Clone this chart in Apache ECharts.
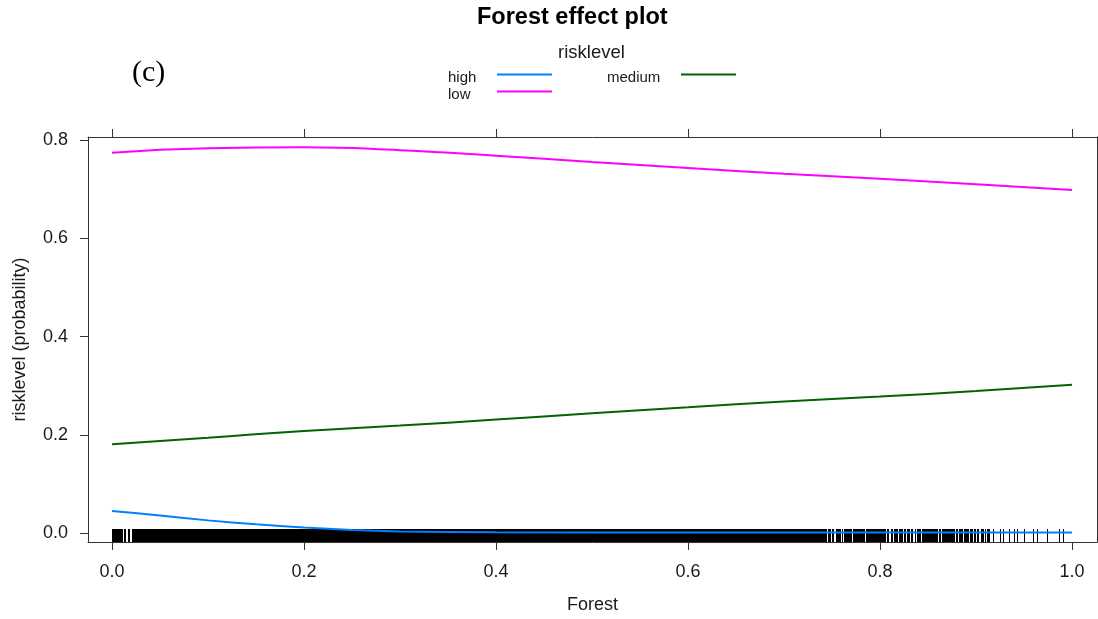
<!DOCTYPE html>
<html>
<head>
<meta charset="utf-8">
<script src="https://cdn.jsdelivr.net/npm/echarts@6/dist/echarts.min.js"></script>
<style>
  html, body { margin: 0; padding: 0; background: #fff; }
  #chart { width: 1098px; height: 619px; }
</style>
</head>
<body>
<div id="chart"></div>
<script>
// ---- data ----
const forestX = [0.0, 0.1, 0.2, 0.3, 0.4, 0.5, 0.6, 0.7, 0.8, 0.9, 1.0];
const lowVals = [0.774, 0.783, 0.785, 0.779, 0.768, 0.755, 0.743, 0.731, 0.721, 0.710, 0.698];
const mediumVals = [0.181, 0.194, 0.208, 0.219, 0.231, 0.244, 0.256, 0.268, 0.278, 0.289, 0.302];
const highX = [0.0, 0.05, 0.1, 0.15, 0.2, 0.25, 0.3, 0.4, 0.6, 0.8, 1.0];
const highVals = [0.045, 0.036, 0.026, 0.018, 0.0115, 0.0065, 0.0035, 0.0018, 0.0015, 0.0014, 0.0014];

// rug: dense stretches of observations [from, to] and isolated observations
const rugSegments = [
  [0.000, 0.0110], [0.0125, 0.0150], [0.0165, 0.0192], [0.0207, 0.7450],
  [0.7462, 0.7488], [0.7500, 0.7525], [0.7538, 0.7596], [0.7608, 0.7612],
  [0.7625, 0.7705], [0.7717, 0.7845], [0.7857, 0.8058], [0.8070, 0.8098],
  [0.8110, 0.8133], [0.8145, 0.8190], [0.8202, 0.8238], [0.8250, 0.8272],
  [0.8284, 0.8308], [0.8320, 0.8348], [0.8360, 0.8370], [0.8382, 0.8428],
  [0.8440, 0.8602], [0.8614, 0.8630], [0.8642, 0.8776], [0.8788, 0.8810],
  [0.8822, 0.8862], [0.8874, 0.8925], [0.8937, 0.8967], [0.8979, 0.9002],
  [0.9014, 0.9036], [0.9048, 0.9053], [0.9065, 0.9078], [0.9090, 0.9106],
  [0.9118, 0.9146]
];
const rugTicks = [0.918, 0.925, 0.928, 0.934, 0.940, 0.943, 0.950, 0.959, 0.964, 0.974, 0.986, 0.991];

const xTicks = [0.0, 0.2, 0.4, 0.6, 0.8, 1.0];
const yTicks = [0.0, 0.2, 0.4, 0.6, 0.8];

const titleText = 'Forest effect plot';
const legendTitle = 'risklevel';
const panelTag = '(c)';
const xName = 'Forest';
const yName = 'risklevel (probability)';

// ---- chart ----
const FONT = 'Liberation Sans, Arial, sans-serif';
const AX = '#333';
const TXT = '#1a1a1a';
const chart = echarts.init(document.getElementById('chart'), null, { renderer: 'canvas' });

const pair = (xs, ys) => xs.map((x, i) => [x, ys[i]]);
const fmt = v => Number(v).toFixed(1);

function legendAt(name, left, top, textW) {
  return {
    data: [name], left: left, top: top,
    orient: 'horizontal', align: 'right', icon: 'rect',
    itemWidth: 55, itemHeight: 2, itemGap: 0, padding: 0,
    selectedMode: false,
    formatter: n => '{t|' + n + '}',
    textStyle: {
      fontFamily: FONT, fontSize: 15, color: TXT,
      rich: { t: { width: textW, align: 'left', fontFamily: FONT, fontSize: 15, color: TXT,
                   lineHeight: 18, padding: [6, 0, 0, 0] } }
    }
  };
}

const xCommon = { type: 'value', min: -0.025, max: 1.026, splitLine: { show: false } };
const yCommon = { type: 'value', min: -0.018, max: 0.806, splitLine: { show: false } };

const option = {
  animation: false,
  backgroundColor: '#ffffff',
  title: {
    text: titleText, left: 477, top: 6, padding: 0,
    textStyle: { fontFamily: FONT, fontSize: 23.5, fontWeight: 'bold', color: '#000' }
  },
  legend: [
    legendAt('high', 448, 64, 44),
    legendAt('low', 448, 81, 44),
    legendAt('medium', 607, 64, 69)
  ],
  graphic: [
    { type: 'text', left: 558, top: 43, silent: true,
      style: { text: legendTitle, fontFamily: FONT, fontSize: 18.5, fill: TXT } },
    { type: 'text', left: 132, top: 58, silent: true,
      style: { text: panelTag, fontFamily: 'Liberation Serif, Times New Roman, serif', fontSize: 30, fill: '#000' } }
  ],
  grid: { left: 88, right: 1, top: 137, bottom: 76, containLabel: false },
  xAxis: [
    Object.assign({}, xCommon, {
      position: 'bottom',
      name: xName, nameLocation: 'middle', nameGap: 54,
      nameTextStyle: { fontFamily: FONT, fontSize: 18, color: TXT },
      axisLine: { show: true, onZero: false, lineStyle: { color: AX, width: 1 } },
      axisTick: { show: true, length: 8, inside: false, customValues: xTicks, lineStyle: { color: AX } },
      axisLabel: { show: true, customValues: xTicks, formatter: fmt, margin: 21,
        fontFamily: FONT, fontSize: 18, color: TXT }
    }),
    Object.assign({}, xCommon, {
      position: 'top',
      axisLine: { show: true, onZero: false, lineStyle: { color: AX, width: 1 } },
      axisTick: { show: true, length: 8, inside: false, customValues: xTicks, lineStyle: { color: AX } },
      axisLabel: { show: false }
    })
  ],
  yAxis: [
    Object.assign({}, yCommon, {
      position: 'left',
      name: yName, nameLocation: 'middle', nameGap: 59, nameRotate: 90,
      nameTextStyle: { fontFamily: FONT, fontSize: 18, color: TXT },
      axisLine: { show: true, onZero: false, lineStyle: { color: AX, width: 1 } },
      axisTick: { show: true, length: 8, inside: false, customValues: yTicks, lineStyle: { color: AX } },
      axisLabel: { show: true, customValues: yTicks, formatter: fmt, margin: 20,
        fontFamily: FONT, fontSize: 18, color: TXT }
    }),
    Object.assign({}, yCommon, {
      position: 'right',
      axisLine: { show: true, onZero: false, lineStyle: { color: AX, width: 1 } },
      axisTick: { show: true, length: 8, inside: false, customValues: yTicks, lineStyle: { color: AX } },
      axisLabel: { show: false }
    })
  ],
  series: [
    {
      name: 'rug', type: 'custom', xAxisIndex: 0, yAxisIndex: 0, silent: true, z: 1,
      data: rugSegments.map(s => [s[0], s[1], 0]).concat(rugTicks.map(v => [v, v, 0])),
      encode: { x: [0, 1], y: 2 },
      renderItem: function (params, api) {
        const a = api.coord([api.value(0), 0]);
        const b = api.coord([api.value(1), 0]);
        const cs = params.coordSys;
        const bottom = cs.y + cs.height;
        const x0 = Math.round(a[0]);
        const w = Math.max(1, Math.round(b[0]) - x0);
        return { type: 'rect', shape: { x: x0, y: bottom - 13, width: w, height: 13 },
                 style: { fill: '#000' } };
      }
    },
    { name: 'high', type: 'line', xAxisIndex: 0, yAxisIndex: 0, z: 3, smooth: 0.2,
      showSymbol: false, symbol: 'none', color: '#0080ff',
      lineStyle: { color: '#0080ff', width: 2 }, data: pair(highX, highVals) },
    { name: 'low', type: 'line', xAxisIndex: 0, yAxisIndex: 0, z: 3, smooth: true,
      showSymbol: false, symbol: 'none', color: '#ff00ff',
      lineStyle: { color: '#ff00ff', width: 2 }, data: pair(forestX, lowVals) },
    { name: 'medium', type: 'line', xAxisIndex: 0, yAxisIndex: 0, z: 3, smooth: true,
      showSymbol: false, symbol: 'none', color: '#006400',
      lineStyle: { color: '#006400', width: 2 }, data: pair(forestX, mediumVals) }
  ]
};
chart.setOption(option);
</script>
</body>
</html>
